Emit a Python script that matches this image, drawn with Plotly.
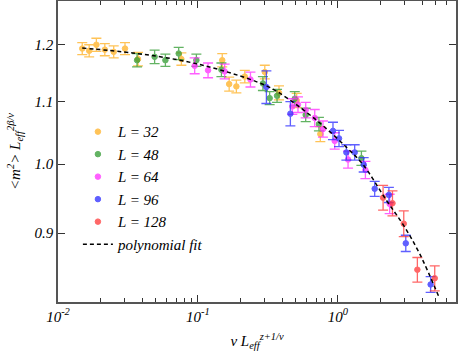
import plotly.graph_objects as go

# ---- data ----
x_32 = [0.0149, 0.0167, 0.0188, 0.0216, 0.0250, 0.0301, 0.0373, 0.0761, 0.149, 0.167,
        0.188, 0.216, 0.300, 0.379, 0.507, 0.748]
y_32 = [1.193, 1.189, 1.200, 1.191, 1.187, 1.193, 1.174, 1.174, 1.172, 1.130,
        1.126, 1.143, 1.151, 1.115, 1.102, 1.047]
e_32 = [0.011, 0.011, 0.012, 0.011, 0.011, 0.011, 0.012, 0.011, 0.012, 0.012,
        0.011, 0.011, 0.012, 0.012, 0.012, 0.012]

x_48 = [0.0367, 0.0490, 0.0585, 0.0728, 0.0974, 0.147, 0.291, 0.325, 0.367, 0.491,
        0.588, 0.731, 1.47]
y_48 = [1.172, 1.178, 1.172, 1.184, 1.172, 1.155, 1.131, 1.106, 1.110, 1.105,
        1.078, 1.063, 1.009]
e_48 = [0.012, 0.012, 0.011, 0.011, 0.011, 0.012, 0.012, 0.011, 0.011, 0.012,
        0.011, 0.011, 0.011]

x_64 = [0.0947, 0.118, 0.155, 0.237, 0.472, 0.518, 0.588, 0.682, 0.781, 0.947,
        1.18, 1.57, 2.34]
y_64 = [1.162, 1.154, 1.152, 1.138, 1.092, 1.095, 1.086, 1.073, 1.055, 1.036,
        1.007, 0.991, 0.941]
e_64 = [0.014, 0.013, 0.013, 0.013, 0.013, 0.013, 0.013, 0.014, 0.013, 0.013,
        0.013, 0.013, 0.014]

x_96 = [0.308, 0.457, 0.921, 1.017, 1.148, 1.316, 1.526, 1.829, 2.31, 3.05, 4.59]
y_96 = [1.125, 1.080, 1.052, 1.040, 1.018, 1.018, 0.999, 0.963, 0.954, 0.886, 0.832]
e_96 = [0.028, 0.020, 0.014, 0.013, 0.012, 0.012, 0.011, 0.011, 0.011, 0.011, 0.010]

x_128 = [2.10, 2.45, 2.95, 3.69, 4.91]
y_128 = [0.950, 0.942, 0.913, 0.851, 0.840]
e_128 = [0.018, 0.018, 0.018, 0.016, 0.016]

x_fit = [0.0149, 0.0342, 0.074, 0.143, 0.308, 0.428, 0.740, 1.148, 1.50, 2.22,
         2.91, 3.83, 5.33]
y_fit = [1.194, 1.185, 1.172, 1.155, 1.127, 1.107, 1.065, 1.026, 1.000, 0.946,
         0.912, 0.872, 0.814]

series = [
    ('L = 32', x_32, y_32, e_32, '#ffb020'),
    ('L = 48', x_48, y_48, e_48, '#2f9a2f'),
    ('L = 64', x_64, y_64, e_64, '#ff2aff'),
    ('L = 96', x_96, y_96, e_96, '#2a2aff'),
    ('L = 128', x_128, y_128, e_128, '#ff3535'),
]

SERIF = 'Liberation Serif'

fig = go.Figure()

for name, xs, ys, es, col in series:
    fig.add_trace(go.Scatter(
        x=xs, y=ys, mode='markers', name=name, opacity=0.75,
        marker=dict(size=5.5, color=col, line=dict(color=col, width=1)),
        error_y=dict(type='data', array=es, color=col, thickness=1.3, width=5),
    ))

fig.add_trace(go.Scatter(
    x=x_fit, y=y_fit, mode='lines', name='polynomial fit',
    line=dict(color='black', width=1.5, dash='4px,3px'),
    line_shape='spline',
))

# minor ticks on the log x axis
minor_x = [m * 10 ** p for p in (-2, -1, 0) for m in range(2, 10) if m * 10 ** p < 7]

axis_line = dict(showline=True, linecolor='#555555', linewidth=1.5, mirror='ticks',
                 ticks='inside', tickcolor='#333333', showgrid=False, zeroline=False,
                 automargin=False)

fig.update_xaxes(
    type='log', range=[-2, 0.843],
    tickmode='array', tickvals=[0.01, 0.1, 1],
    ticktext=['10<sup>-2</sup>', '10<sup>-1</sup>', '10<sup>0</sup>'],
    ticklen=7,
    minor=dict(tickmode='array', tickvals=minor_x, ticks='inside', ticklen=4,
               tickcolor='#333333'),
    tickfont=dict(family=SERIF, size=15, style='italic', color='black'),
    title=dict(text='ν L<sub>eff</sub><sup>z+1/ν</sup>', standoff=12,
               font=dict(family=SERIF, size=15, style='italic', color='black')),
    **axis_line,
)
fig.update_yaxes(
    type='log', range=[-0.0915, 0.1082],
    tickmode='array', tickvals=[0.9, 1.0, 1.1, 1.2],
    ticktext=['0.9', '1.0', '1.1', '1.2'],
    ticklen=7,
    tickfont=dict(family=SERIF, size=15, style='italic', color='black'),
    title=dict(text='<m<sup>2</sup>> L<sub>eff</sub><sup>2β/ν</sup>', standoff=10,
               font=dict(family=SERIF, size=15, style='italic', color='black')),
    **axis_line,
)

fig.update_layout(
    width=458, height=353,
    margin=dict(l=58, r=2, t=1, b=51),
    paper_bgcolor='white', plot_bgcolor='white',
    font=dict(family=SERIF, size=15, color='black'),
    showlegend=True,
    legend=dict(x=0.05, y=0.62, xanchor='left', yanchor='top',
                bgcolor='rgba(0,0,0,0)', itemwidth=30, tracegroupgap=0,
                font=dict(family=SERIF, size=15, style='italic', color='black')),
)

fig.write_html("out.html", config={'displayModeBar': False},
               post_script="document.body.style.margin='0';")
